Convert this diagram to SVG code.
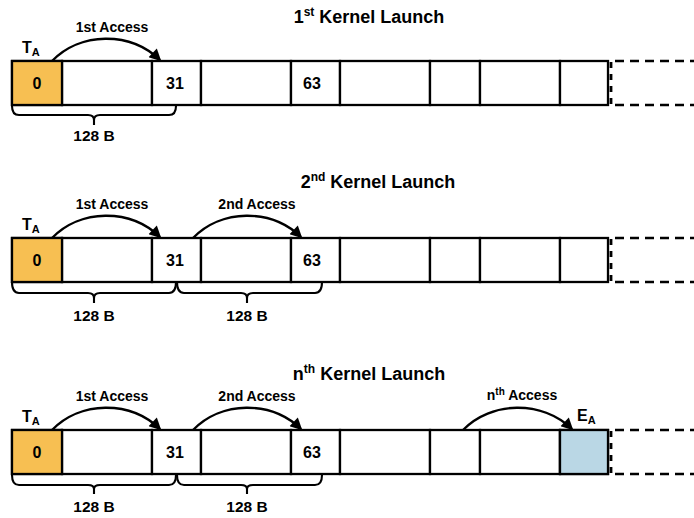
<svg xmlns="http://www.w3.org/2000/svg" width="694" height="518" viewBox="0 0 694 518">
  <style>
    text { font-family: "Liberation Sans", Arial, Helvetica, sans-serif; font-weight: bold; fill: #000; }
    .title { font-size: 18px; text-anchor: middle; }
    .acc { font-size: 14px; text-anchor: middle; }
    .num { font-size: 16px; text-anchor: middle; }
    .size { font-size: 15.5px; text-anchor: middle; }
    .lbl { font-size: 16px; }
    .cell { fill: #fff; stroke: #000; stroke-width: 2.3; }
    .start { fill: #F7BF52; }
    .end { fill: #BAD7E5; }
    .tail { fill: none; stroke: #000; stroke-width: 2.3; stroke-dasharray: 9 6; }
    .edge { fill: none; stroke: #000; stroke-width: 2.8; stroke-dasharray: 6 6; }
    .arc { fill: none; stroke: #000; stroke-width: 2.4; marker-end: url(#head); }
    .brace { fill: none; stroke: #000; stroke-width: 2.1; }
  </style>
  <defs>
    <marker id="head" viewBox="0 0 10 10" refX="8.5" refY="5" markerUnits="userSpaceOnUse" markerWidth="13" markerHeight="12" orient="auto">
      <path d="M0,0 L10,5 L0,10 z" fill="#000"/>
    </marker>
    <!-- one memory segment: cells plus an open-ended tail -->
    <g id="segment">
      <rect class="cell" x="12" y="0" width="50" height="44"/>
      <rect class="cell" x="62" y="0" width="90" height="44"/>
      <rect class="cell" x="152" y="0" width="49" height="44"/>
      <rect class="cell" x="201" y="0" width="90" height="44"/>
      <rect class="cell" x="291" y="0" width="49" height="44"/>
      <rect class="cell" x="340" y="0" width="90" height="44"/>
      <rect class="cell" x="430" y="0" width="50" height="44"/>
      <rect class="cell" x="480" y="0" width="80" height="44"/>
      <rect class="cell" x="560" y="0" width="48" height="44"/>
      <line class="edge" x1="611" y1="1" x2="611" y2="44"/>
      <line class="tail" x1="615" y1="0" x2="694" y2="0"/>
      <line class="tail" x1="615" y1="44" x2="694" y2="44"/>
    </g>
  </defs>

  <!-- 1st launch -->
  <g id="launch1">
    <text class="title" x="369" y="23">1<tspan font-size="12" dy="-7">st</tspan><tspan dy="7"> Kernel Launch</tspan></text>
    <g transform="translate(0,61)">
      <use href="#segment"/>
      <rect class="cell start" x="12" y="0" width="50" height="44"/>
      <text class="num" x="37" y="28">0</text>
      <text class="num" x="175" y="28">31</text>
      <text class="num" x="312" y="28">63</text>
      <text class="lbl" x="22" y="-8">T<tspan font-size="11" dy="3">A</tspan></text>
    </g>
    <text class="acc" x="112" y="32">1st Access</text>
    <text class="size" x="94" y="140.5">128 B</text>
  </g>

  <!-- 2nd launch -->
  <g id="launch2">
    <text class="title" x="378" y="188">2<tspan font-size="12" dy="-7">nd</tspan><tspan dy="7"> Kernel Launch</tspan></text>
    <g transform="translate(0,238)">
      <use href="#segment"/>
      <rect class="cell start" x="12" y="0" width="50" height="44"/>
      <text class="num" x="37" y="28">0</text>
      <text class="num" x="175" y="28">31</text>
      <text class="num" x="312" y="28">63</text>
      <text class="lbl" x="22" y="-8">T<tspan font-size="11" dy="3">A</tspan></text>
    </g>
    <text class="acc" x="112" y="208.5">1st Access</text>
    <text class="acc" x="257" y="208.5">2nd Access</text>
    <text class="size" x="94" y="321">128 B</text>
    <text class="size" x="247" y="321">128 B</text>
  </g>

  <!-- n-th launch -->
  <g id="launchN">
    <text class="title" x="369" y="380">n<tspan font-size="12" dy="-7">th</tspan><tspan dy="7"> Kernel Launch</tspan></text>
    <g transform="translate(0,430)">
      <use href="#segment"/>
      <rect class="cell start" x="12" y="0" width="50" height="44"/>
      <rect class="cell end" x="560" y="0" width="48" height="44"/>
      <text class="num" x="37" y="28">0</text>
      <text class="num" x="175" y="28">31</text>
      <text class="num" x="312" y="28">63</text>
      <text class="lbl" x="22" y="-8">T<tspan font-size="11" dy="3">A</tspan></text>
      <text class="lbl" x="577" y="-9">E<tspan font-size="11" dy="3">A</tspan></text>
    </g>
    <text class="acc" x="112" y="401">1st Access</text>
    <text class="acc" x="257" y="401">2nd Access</text>
    <text class="acc" x="522" y="400">n<tspan font-size="10" dy="-5">th</tspan><tspan dy="5"> Access</tspan></text>
    <text class="size" x="94" y="511.5">128 B</text>
    <text class="size" x="247" y="511.5">128 B</text>
  </g>

  <!-- access arcs and size braces -->
  <g id="connectors">
    <path class="arc" d="M52,61 C80,32 130,31 160,60"/>

    <path class="arc" d="M52,238 C80,209 130,208 160,237"/>
    <path class="arc" d="M193,238 C221,209 271,208 301,237"/>

    <path class="arc" d="M52,430 C80,401 130,400 160,429"/>
    <path class="arc" d="M193,430 C221,401 271,400 301,429"/>
    <path class="arc" d="M463,430 C491,401 542,400 572,429"/>

    <path class="brace" d="M12,106 Q12,115 19,115 H88 Q94,115 94,120 V125 M176,106 Q176,115 169,115 H100 Q94,115 94,120"/>

    <path class="brace" d="M12,282 Q12,293 19,293 H88 Q94,293 94,298 V303 M176,282 Q176,293 169,293 H100 Q94,293 94,298"/>
    <path class="brace" d="M177,282 Q177,293 184,293 H241 Q247,293 247,298 V303 M322,282 Q322,293 315,293 H253 Q247,293 247,298"/>

    <path class="brace" d="M12,475 Q12,485 19,485 H88 Q94,485 94,489 V494 M176,475 Q176,485 169,485 H100 Q94,485 94,489"/>
    <path class="brace" d="M177,475 Q177,485 184,485 H241 Q247,485 247,489 V494 M322,475 Q322,485 315,485 H253 Q247,485 247,489"/>
  </g>
</svg>
